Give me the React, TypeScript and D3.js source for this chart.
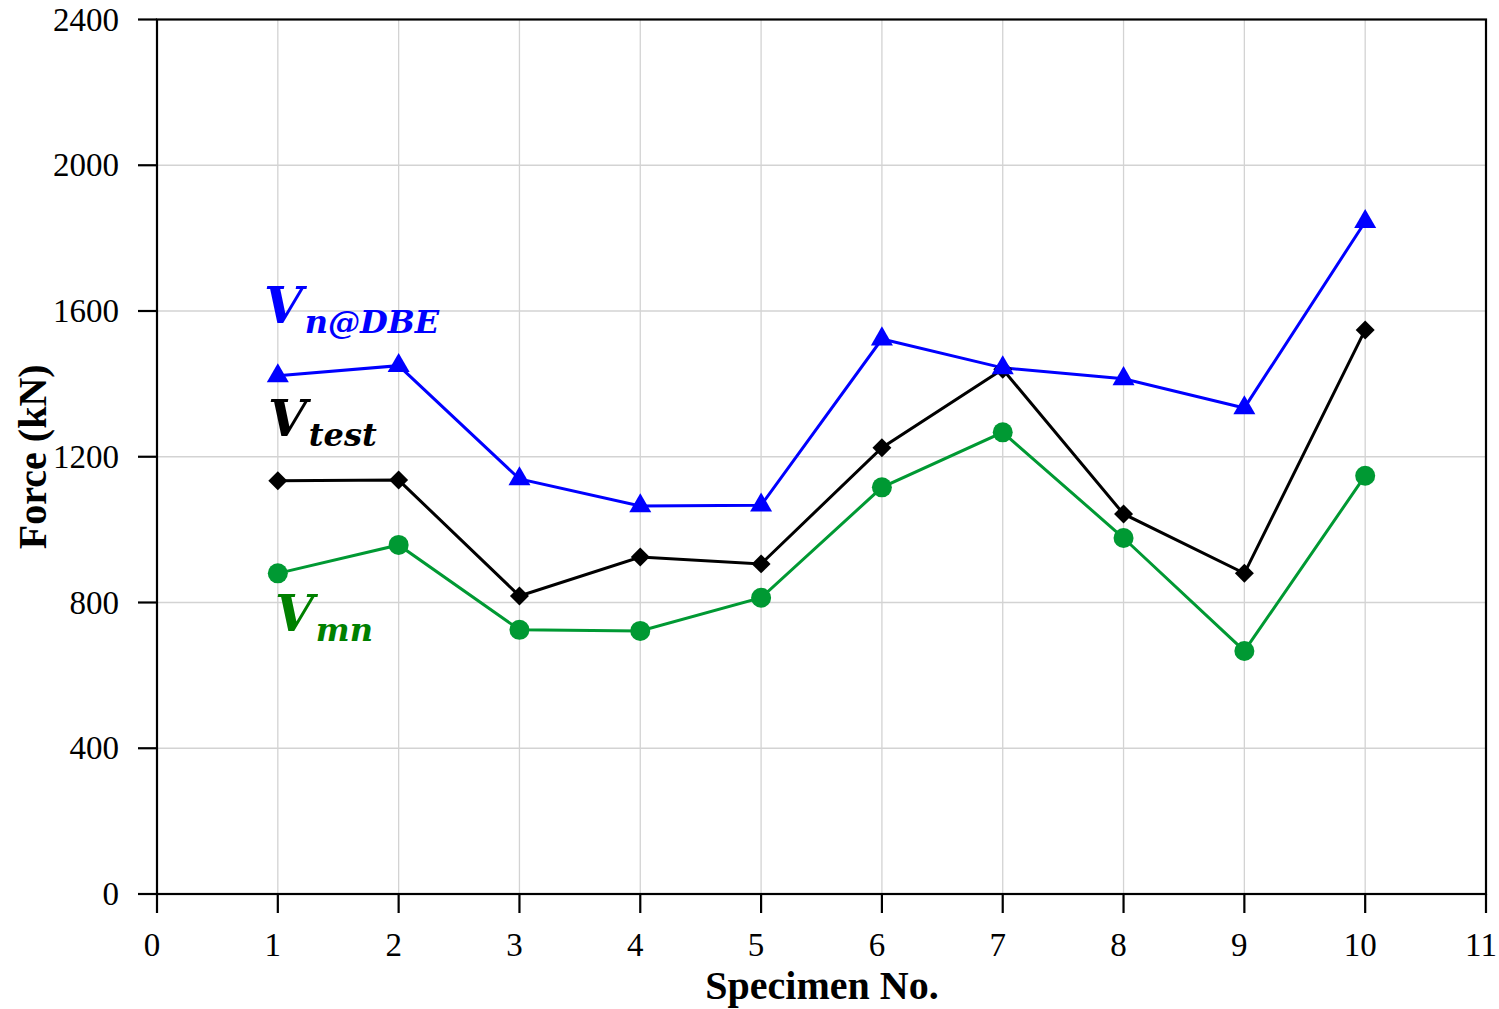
import React from "react";
import * as d3 from "d3";

// Specimen numbers and shear force values (kN)
const specimens = [1, 2, 3, 4, 5, 6, 7, 8, 9, 10];
const vnDBE = [1422, 1450, 1139, 1065, 1067, 1523, 1444, 1414, 1334, 1845];
const vTest = [1134, 1136, 818, 925, 906, 1225, 1440, 1043, 880, 1548];
const vMn = [880, 958, 725, 722, 813, 1116, 1267, 977, 667, 1148];
const xTicks = [0, 1, 2, 3, 4, 5, 6, 7, 8, 9, 10, 11];
const yTicks = [0, 400, 800, 1200, 1600, 2000, 2400];

const W = 1499;
const H = 1009;
const left = 157;
const right = 1486;
const top = 19.5;
const bottom = 894;

export default function App() {
  const x = d3.scaleLinear().domain([0, 11]).range([left, right]);
  const y = d3.scaleLinear().domain([0, 2400]).range([bottom, top]);
  const line = (vals: number[]) =>
    d3.line<number>().x((_, i) => x(specimens[i])).y((v) => y(v))(vals) || "";

  const tri = d3.symbol().type(d3.symbolTriangle).size(210)() || "";
  const diamond = d3.symbol().type(d3.symbolSquare).size(180)() || "";

  const tickFont = "'Liberation Serif', 'Times New Roman', serif";
  const mathFont = "'DejaVu Serif', serif";

  return (
    <svg width={W} height={H} style={{ position: "absolute", left: 0, top: 0, background: "#fff" }}>
      {/* grid */}
      {xTicks.slice(1, -1).map((t) => (
        <line key={"gx" + t} x1={x(t)} x2={x(t)} y1={top} y2={bottom} stroke="#d3d3d3" strokeWidth={1.3} />
      ))}
      {yTicks.slice(1, -1).map((t) => (
        <line key={"gy" + t} x1={left} x2={right} y1={y(t)} y2={y(t)} stroke="#d3d3d3" strokeWidth={1.3} />
      ))}
      {/* frame */}
      <rect x={left} y={top} width={right - left} height={bottom - top} fill="none" stroke="#000" strokeWidth={2.2} />
      {/* ticks */}
      {xTicks.map((t) => (
        <g key={"xt" + t}>
          <line x1={x(t)} x2={x(t)} y1={bottom} y2={bottom + 19} stroke="#000" strokeWidth={2.2} />
          <text x={x(t) - 5} y={956} textAnchor="middle" fontFamily={tickFont} fontSize={33}>
            {t}
          </text>
        </g>
      ))}
      {yTicks.map((t) => (
        <g key={"yt" + t}>
          <line x1={left - 19} x2={left} y1={y(t)} y2={y(t)} stroke="#000" strokeWidth={2.2} />
          <text x={119} y={y(t) + 11} textAnchor="end" fontFamily={tickFont} fontSize={33}>
            {t}
          </text>
        </g>
      ))}
      {/* axis titles */}
      <text
        transform={`translate(46,${(top + bottom) / 2}) rotate(-90)`}
        textAnchor="middle"
        fontFamily={tickFont}
        fontWeight="bold"
        fontSize={40}
      >
        Force (kN)
      </text>
      <text x={822} y={999} textAnchor="middle" fontFamily={tickFont} fontWeight="bold" fontSize={40}>
        Specimen No.
      </text>

      {/* series */}
      <path d={line(vMn)} fill="none" stroke="#009933" strokeWidth={3} />
      <path d={line(vTest)} fill="none" stroke="#000" strokeWidth={3} />
      <path d={line(vnDBE)} fill="none" stroke="#0000ff" strokeWidth={3} />
      {vMn.map((v, i) => (
        <circle key={"m" + i} cx={x(specimens[i])} cy={y(v)} r={10} fill="#009933" />
      ))}
      {vTest.map((v, i) => (
        <path key={"t" + i} d={diamond} transform={`translate(${x(specimens[i])},${y(v)}) rotate(45)`} fill="#000" />
      ))}
      {vnDBE.map((v, i) => (
        <path key={"n" + i} d={tri} transform={`translate(${x(specimens[i])},${y(v)})`} fill="#0000ff" />
      ))}

      {/* series labels */}
      <text x={264} y={323} fontFamily={mathFont} fontWeight="bold" fontStyle="italic" fill="#0000ff">
        <tspan fontSize={50}>V</tspan>
        <tspan fontSize={32} dy={10} dx={2}>n@DBE</tspan>
      </text>
      <text x={268} y={436} fontFamily={mathFont} fontWeight="bold" fontStyle="italic" fill="#000">
        <tspan fontSize={50}>V</tspan>
        <tspan fontSize={32} dy={10} dx={2}>test</tspan>
      </text>
      <text x={275} y={631} fontFamily={mathFont} fontWeight="bold" fontStyle="italic" fill="#008000">
        <tspan fontSize={50}>V</tspan>
        <tspan fontSize={32} dy={10} dx={2}>mn</tspan>
      </text>
    </svg>
  );
}
